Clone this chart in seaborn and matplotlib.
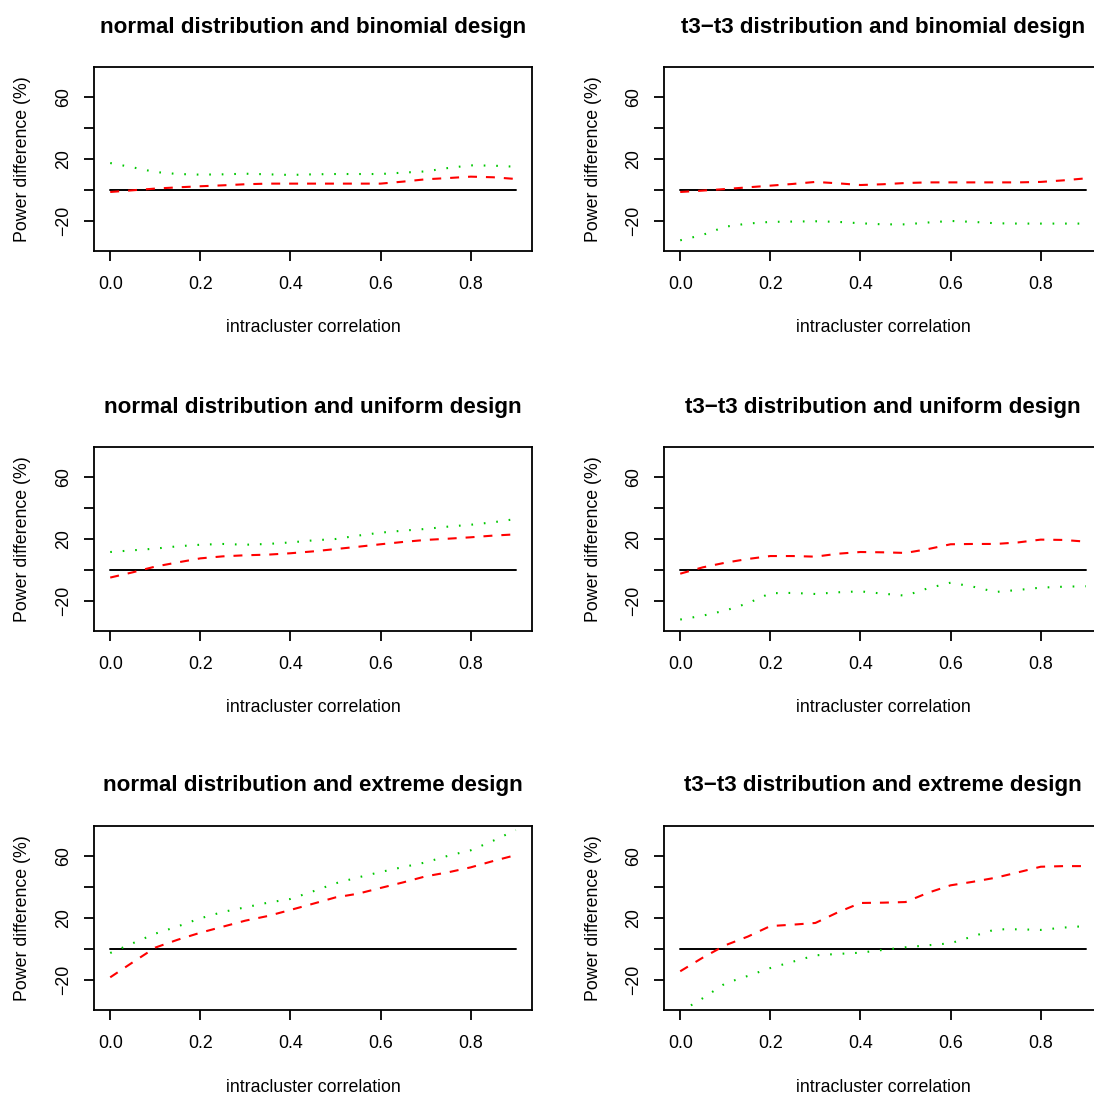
import numpy as np
import pandas as pd
import matplotlib
matplotlib.use("Agg")
import matplotlib.pyplot as plt
import seaborn as sns

# ---------------- data ----------------
rho = [0.0, 0.05, 0.1, 0.15, 0.2, 0.25, 0.3, 0.35, 0.4, 0.45,
       0.5, 0.55, 0.6, 0.65, 0.7, 0.75, 0.8, 0.85, 0.9]

titles = ["normal distribution and binomial design",
          "t3\u2212t3 distribution and binomial design",
          "normal distribution and uniform design",
          "t3\u2212t3 distribution and uniform design",
          "normal distribution and extreme design",
          "t3\u2212t3 distribution and extreme design"]

# red dashed series
red_n_bin = [-1.3, -0.2, 0.9, 1.7, 2.4, 3.0, 3.7, 4.1, 4.1, 4.1,
             4.1, 4.1, 4.1, 5.4, 6.9, 7.7, 8.6, 8.2, 7.1]
red_t_bin = [-1.3, -0.4, 0.6, 1.7, 2.8, 3.9, 5.2, 4.3, 3.2, 3.7,
             4.5, 4.9, 4.9, 4.9, 4.9, 4.9, 5.2, 6.2, 7.5]
red_n_uni = [-4.9, -1.5, 2.2, 4.9, 7.5, 8.8, 9.5, 9.9, 10.8, 12.0,
             13.5, 15.0, 16.6, 18.1, 19.4, 20.2, 21.1, 22.2, 23.0]
red_t_uni = [-2.4, 1.7, 4.7, 7.1, 9.0, 9.0, 8.6, 10.5, 11.6, 11.4,
             11.0, 13.5, 16.6, 16.8, 16.8, 17.8, 19.6, 19.4, 18.3]
red_n_ext = [-18.3, -8.6, 0.9, 6.0, 10.5, 14.4, 18.3, 21.3, 25.2, 29.2,
             33.3, 35.7, 39.4, 43.0, 46.9, 49.5, 52.7, 56.8, 60.6]
red_t_ext = [-14.4, -5.6, 2.4, 8.0, 14.8, 15.7, 16.8, 23.7, 29.7, 29.9,
             30.3, 36.3, 41.1, 43.4, 46.0, 49.5, 53.1, 53.5, 53.5]

# green dotted series
grn_n_bin = [17.4, 14.6, 11.6, 10.3, 9.9, 10.1, 10.5, 10.1, 9.7, 10.1,
             10.3, 10.3, 10.3, 11.2, 12.0, 14.2, 15.9, 15.7, 15.0]
grn_t_bin = [-32.5, -29.0, -23.7, -21.7, -20.6, -20.4, -20.2, -20.6, -21.5, -22.2,
             -22.2, -21.0, -20.0, -20.6, -21.5, -21.7, -21.7, -21.7, -21.7]
grn_n_uni = [11.6, 12.7, 13.8, 15.3, 16.3, 16.8, 16.3, 16.8, 17.8, 19.1,
             20.0, 22.2, 24.1, 25.4, 26.5, 28.0, 29.2, 30.8, 32.9]
grn_t_uni = [-32.0, -29.5, -26.2, -21.5, -15.0, -14.8, -15.5, -14.4, -13.8, -15.3,
             -16.6, -11.8, -8.2, -10.8, -14.2, -12.9, -11.4, -10.8, -10.5]
grn_n_ext = [-2.6, 3.7, 9.9, 14.6, 19.8, 23.9, 26.9, 29.9, 32.3, 37.2,
             42.4, 46.2, 49.7, 52.9, 55.9, 60.2, 63.7, 69.9, 76.8]
grn_t_ext = [-40.6, -31.8, -22.2, -17.4, -12.3, -8.2, -4.1, -3.2, -2.4, -0.6,
             1.1, 2.4, 3.7, 8.2, 12.7, 12.7, 12.3, 13.8, 14.8]

red_series = [red_n_bin, red_t_bin, red_n_uni, red_t_uni, red_n_ext, red_t_ext]
grn_series = [grn_n_bin, grn_t_bin, grn_n_uni, grn_t_uni, grn_n_ext, grn_t_ext]

ytick_vals = [-20, 0, 20, 40, 60]
ytick_labels = ["\u221220", "", "20", "", "60"]
xtick_vals = [0.0, 0.2, 0.4, 0.6, 0.8]
xtick_labels = ["0.0", "0.2", "0.4", "0.6", "0.8"]

# ---------------- style ----------------
sns.set_style("white")
plt.rcParams['font.family'] = ['Liberation Sans', 'DejaVu Sans']
plt.rcParams['axes.linewidth'] = 1.3
plt.rcParams['text.color'] = 'black'
plt.rcParams['axes.labelcolor'] = 'black'
plt.rcParams['xtick.color'] = 'black'
plt.rcParams['ytick.color'] = 'black'

W, H = 1094, 1095
fig = plt.figure(figsize=(W / 100, H / 100), dpi=100)

box_left = [94, 664]
box_top = [67, 447, 826]
box_w, box_h = 438, 184

RED = "#FF0000"
GREEN = "#00C800"
FS = 12.8

for i in range(6):
    r, c = divmod(i, 2)
    rect = [box_left[c] / W, 1 - (box_top[r] + box_h) / H, box_w / W, box_h / H]
    ax = fig.add_axes(rect)
    df = pd.DataFrame({"rho": rho, "red": red_series[i], "green": grn_series[i]})
    zero_df = pd.DataFrame({"rho": [rho[0], rho[-1]], "zero": [0, 0]})

    sns.lineplot(data=zero_df, x="rho", y="zero", ax=ax, color="black", lw=1.4)
    sns.lineplot(data=df, x="rho", y="red", ax=ax, color=RED, lw=1.5)
    ax.lines[-1].set_dashes((4.3, 4.3))
    sns.lineplot(data=df, x="rho", y="green", ax=ax, color=GREEN, lw=1.5)
    ax.lines[-1].set_dashes((0.8, 5.2))

    ax.set_xlim(-0.036, 0.936)
    ax.set_ylim(-39.4, 79.4)
    ax.set_xticks(xtick_vals)
    ax.set_xticklabels(xtick_labels)
    ax.set_yticks(ytick_vals)
    ax.set_yticklabels(ytick_labels, rotation=90, va="center")
    ax.tick_params(axis="x", direction="out", length=7, width=1.3,
                   labelsize=FS, colors="black", pad=11, bottom=True)
    ax.tick_params(axis="y", direction="out", length=7, width=1.3,
                   labelsize=FS, colors="black", pad=9, left=True)
    for s in ax.spines.values():
        s.set_visible(True)
        s.set_color("black")
        s.set_linewidth(1.3)

    ax.set_xlabel("intracluster correlation", fontsize=FS, color="black")
    ax.xaxis.set_label_coords(0.5, (67 + 184 - 328) / box_h)
    ax.xaxis.label.set_va("center")
    ax.set_ylabel("Power difference (%)", fontsize=FS, color="black")
    ax.yaxis.set_label_coords((23 - 94) / box_w, 0.5)
    ax.yaxis.label.set_va("center")

    ax.text(0.5, 1 + (67 - 27) / box_h, titles[i], transform=ax.transAxes,
            ha="center", va="center", fontsize=16.1, fontweight="bold",
            color="black")

fig.savefig("out.png", dpi=100, facecolor="white")
